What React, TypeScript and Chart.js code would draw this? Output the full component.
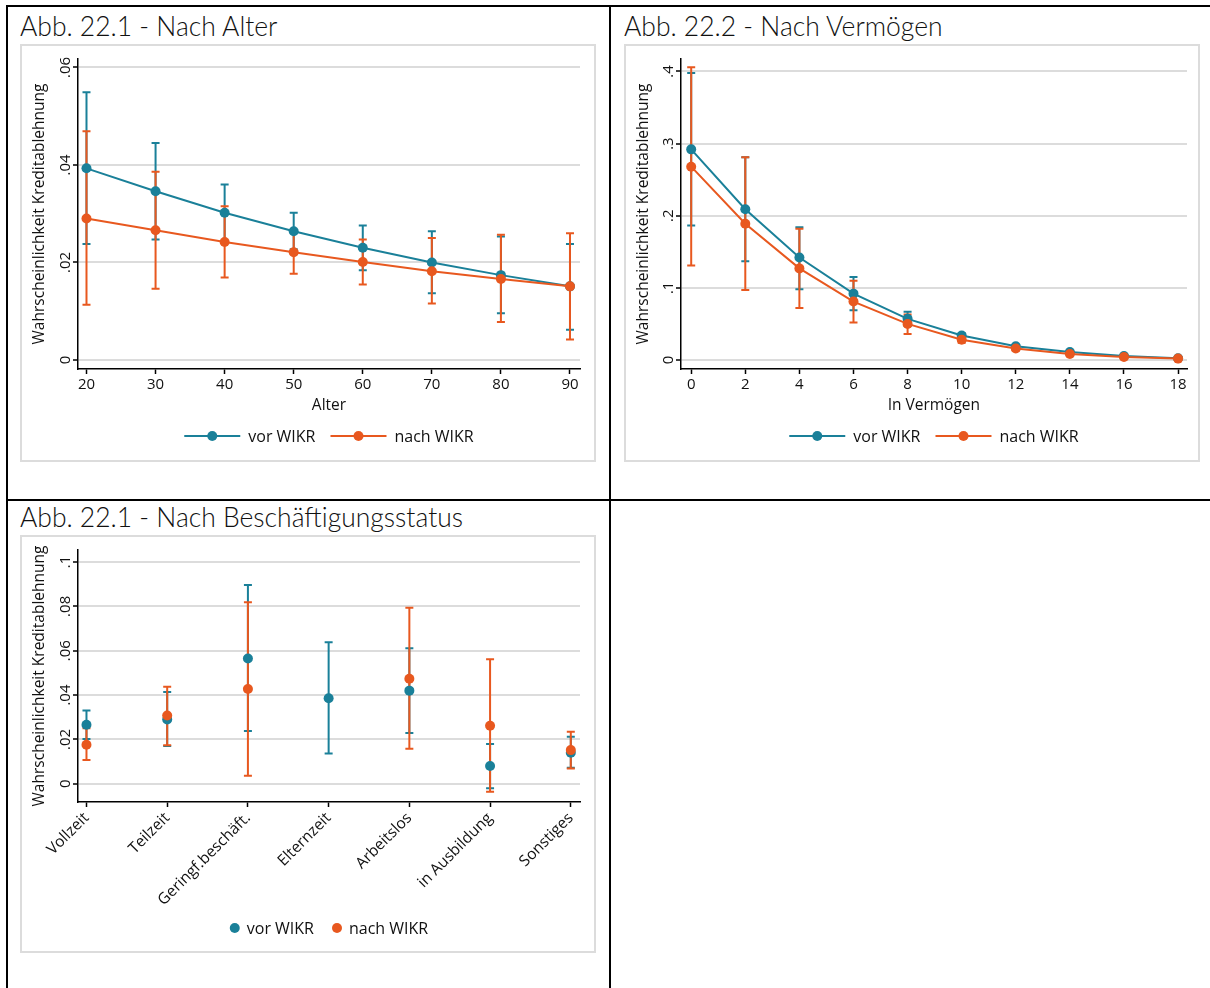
import React, { useEffect, useRef } from "react";
import { Chart, registerables } from "chart.js";

Chart.register(...registerables);

const FONT = "'Open Sans', 'DejaVu Sans', sans-serif";
const TITLE_FONT = "Lato, 'Open Sans', sans-serif";
const TEAL = "#1a8099";
const ORANGE = "#e8581f";
const GRID = "#dcdcdc";

const seriesNames = ["vor WIKR", "nach WIKR"];
const yAxisTitle = "Wahrscheinlichkeit Kreditablehnung";

// ---------- Panel 1: Nach Alter ----------
const ageX = [20, 30, 40, 50, 60, 70, 80, 90];
const ageVor = [0.0393, 0.0346, 0.0302, 0.0264, 0.023, 0.02, 0.0174, 0.0151];
const ageVorLo = [0.0238, 0.0247, 0.0244, 0.0227, 0.0184, 0.0137, 0.0096, 0.0062];
const ageVorHi = [0.0549, 0.0445, 0.036, 0.0302, 0.0276, 0.0264, 0.0253, 0.0238];
const ageNach = [0.029, 0.0266, 0.0242, 0.0221, 0.0201, 0.0182, 0.0166, 0.0151];
const ageNachLo = [0.0113, 0.0146, 0.0169, 0.0177, 0.0155, 0.0116, 0.0078, 0.0042];
const ageNachHi = [0.0469, 0.0386, 0.0315, 0.0265, 0.0247, 0.025, 0.0257, 0.026];
const ageYTicks = [0, 0.02, 0.04, 0.06];
const ageYTickLabels = ["0", ".02", ".04", ".06"];

// ---------- Panel 2: Nach Vermögen ----------
const wealthX = [0, 2, 4, 6, 8, 10, 12, 14, 16, 18];
const wealthVor = [0.292, 0.209, 0.142, 0.092, 0.057, 0.034, 0.019, 0.011, 0.0056, 0.0023];
const wealthVorLo = [0.1865, 0.137, 0.098, 0.069, 0.047, 0.03, 0.016, 0.009, 0.0045, 0.0015];
const wealthVorHi = [0.398, 0.281, 0.184, 0.115, 0.067, 0.037, 0.021, 0.012, 0.0066, 0.003];
const wealthNach = [0.268, 0.189, 0.127, 0.081, 0.05, 0.028, 0.016, 0.0084, 0.0042, 0.0019];
const wealthNachLo = [0.131, 0.097, 0.072, 0.052, 0.036, 0.024, 0.013, 0.007, 0.0033, 0.0013];
const wealthNachHi = [0.406, 0.281, 0.182, 0.11, 0.063, 0.033, 0.018, 0.0095, 0.005, 0.0025];
const wealthYTicks = [0, 0.1, 0.2, 0.3, 0.4];
const wealthYTickLabels = ["0", ".1", ".2", ".3", ".4"];

// ---------- Panel 3: Nach Beschäftigungsstatus ----------
const empCats = ["Vollzeit", "Teilzeit", "Geringf.beschäft.", "Elternzeit", "Arbeitslos", "in Ausbildung", "Sonstiges"];
const empVor = [0.0266, 0.029, 0.0565, 0.0386, 0.042, 0.008, 0.014];
const empVorLo = [0.0202, 0.0171, 0.0238, 0.0137, 0.0229, -0.002, 0.0072];
const empVorHi = [0.0331, 0.0414, 0.0896, 0.0638, 0.0611, 0.0179, 0.0212];
const empNach = [0.0176, 0.0308, 0.0427, null, 0.0474, 0.0262, 0.0152];
const empNachLo = [0.0107, 0.0174, 0.0036, null, 0.0158, -0.0036, 0.0069];
const empNachHi = [0.025, 0.0438, 0.0818, null, 0.0794, 0.0562, 0.0235];
const empYTicks = [0, 0.02, 0.04, 0.06, 0.08, 0.1];
const empYTickLabels = ["0", ".02", ".04", ".06", ".08", ".1"];

type Series = {
  label: string;
  color: string;
  xs: number[];
  ys: (number | null)[];
  lo: (number | null)[];
  hi: (number | null)[];
};

type PanelSpec = {
  series: Series[];
  showLine: boolean;
  xMin: number;
  xMax: number;
  yMin: number;
  yMax: number;
  xTicks: number[];
  xLabels?: string[];
  xRotation: number;
  xTitle?: string;
  xTitlePadBottom: number;
  xAxisHeight: number;
  yTicks: number[];
  yTickLabels: string[];
  yAxisWidth: number;
  yTitlePadTop: number;
  padding: { left: number; top: number; right: number; bottom: number };
  legendDy: number;
};

function makePlugins(spec: PanelSpec) {
  const errorBars = {
    id: "errorBars",
    beforeDatasetsDraw(chart: any) {
      const ctx = chart.ctx;
      const xs = chart.scales.x;
      const ys = chart.scales.y;
      spec.series.forEach((s) => {
        ctx.save();
        ctx.strokeStyle = s.color;
        ctx.lineWidth = 2;
        s.xs.forEach((xv, j) => {
          const lo = s.lo[j];
          const hi = s.hi[j];
          if (lo == null || hi == null) return;
          const px = xs.getPixelForValue(xv);
          const y1 = ys.getPixelForValue(lo);
          const y2 = ys.getPixelForValue(hi);
          ctx.beginPath();
          ctx.moveTo(px, y1);
          ctx.lineTo(px, y2);
          ctx.moveTo(px - 4, y1);
          ctx.lineTo(px + 4, y1);
          ctx.moveTo(px - 4, y2);
          ctx.lineTo(px + 4, y2);
          ctx.stroke();
        });
        ctx.restore();
      });
    },
  };

  const yLabels = {
    id: "yLabels",
    afterDraw(chart: any) {
      const ctx = chart.ctx;
      const ys = chart.scales.y;
      ctx.save();
      ctx.font = `15px ${FONT}`;
      ctx.fillStyle = "#111";
      ctx.textAlign = "center";
      ctx.textBaseline = "bottom";
      spec.yTicks.forEach((v, i) => {
        const y = ys.getPixelForValue(v);
        ctx.save();
        ctx.translate(chart.chartArea.left - 5, y);
        ctx.rotate(-Math.PI / 2);
        ctx.fillText(spec.yTickLabels[i], 0, 0);
        ctx.restore();
      });
      ctx.restore();
    },
  };

  const legend = {
    id: "stataLegend",
    afterDraw(chart: any) {
      const ctx = chart.ctx;
      ctx.save();
      ctx.font = `16px ${FONT}`;
      ctx.textBaseline = "middle";
      ctx.textAlign = "left";
      const symW = spec.showLine ? 56 : 10;
      const symGap = spec.showLine ? 8 : 7;
      const itemGap = spec.showLine ? 15 : 18;
      const items = spec.series.map((s) => ({ s, w: ctx.measureText(s.label).width }));
      const total = items.reduce((a, it) => a + symW + symGap + it.w, 0) + itemGap * (items.length - 1);
      let x = (chart.chartArea.left + chart.chartArea.right) / 2 - total / 2;
      const y = chart.scales.x.bottom + spec.legendDy;
      items.forEach((it) => {
        ctx.strokeStyle = it.s.color;
        ctx.fillStyle = it.s.color;
        ctx.lineWidth = 2;
        if (spec.showLine) {
          ctx.beginPath();
          ctx.moveTo(x, y);
          ctx.lineTo(x + symW, y);
          ctx.stroke();
        }
        ctx.beginPath();
        ctx.arc(x + symW / 2, y, 5, 0, Math.PI * 2);
        ctx.fill();
        x += symW + symGap;
        ctx.fillStyle = "#111";
        ctx.fillText(it.s.label, x, y + 1);
        x += it.w + itemGap;
      });
      ctx.restore();
    },
  };
  return [errorBars, yLabels, legend];
}

function buildConfig(spec: PanelSpec): any {
  const n = spec.series.length;
  return {
    type: "line",
    data: {
      datasets: spec.series.map((s, i) => ({
        label: s.label,
        data: s.xs.map((x, j) => ({ x, y: s.ys[j] })),
        borderColor: s.color,
        backgroundColor: s.color,
        pointBackgroundColor: s.color,
        pointBorderColor: s.color,
        pointRadius: 5,
        pointHoverRadius: 5,
        pointBorderWidth: 0,
        borderWidth: 2,
        showLine: spec.showLine,
        tension: 0,
        order: n - 1 - i,
      })),
    },
    options: {
      responsive: false,
      animation: false,
      devicePixelRatio: 1,
      events: [],
      layout: { padding: spec.padding },
      plugins: {
        legend: { display: false },
        tooltip: { enabled: false },
        title: { display: false },
      },
      scales: {
        x: {
          type: "linear",
          min: spec.xMin,
          max: spec.xMax,
          afterBuildTicks: (s: any) => {
            s.ticks = spec.xTicks.map((v) => ({ value: v }));
          },
          afterFit: (s: any) => {
            s.height = spec.xAxisHeight;
          },
          grid: {
            drawOnChartArea: false,
            drawTicks: true,
            tickLength: 5,
            tickColor: "#000",
            tickWidth: 1.5,
          },
          border: { display: true, color: "#000", width: 1.5 },
          ticks: {
            autoSkip: false,
            color: "#111",
            font: { family: FONT, size: spec.xRotation ? 15.5 : 15 },
            padding: 2,
            minRotation: spec.xRotation,
            maxRotation: spec.xRotation,
            callback: (v: any, i: number) =>
              spec.xLabels ? spec.xLabels[i] : String(spec.xTicks[i]),
          },
          title: {
            display: !!spec.xTitle,
            text: spec.xTitle || "",
            color: "#111",
            font: { family: FONT, size: 15.5 },
            padding: { top: 0, bottom: spec.xTitlePadBottom },
          },
        },
        y: {
          type: "linear",
          min: spec.yMin,
          max: spec.yMax,
          afterBuildTicks: (s: any) => {
            s.ticks = spec.yTicks.map((v) => ({ value: v }));
          },
          afterFit: (s: any) => {
            s.width = spec.yAxisWidth;
          },
          grid: {
            color: GRID,
            lineWidth: 2,
            drawTicks: true,
            tickLength: 5,
            tickColor: "#000",
            tickWidth: 1.5,
          },
          border: { display: true, color: "#000", width: 1.5 },
          ticks: { display: false },
          title: {
            display: true,
            text: yAxisTitle,
            color: "#111",
            font: { family: FONT, size: 15.5 },
            padding: { top: spec.yTitlePadTop, bottom: 0 },
          },
        },
      },
    },
    plugins: makePlugins(spec),
  };
}

const agePanel: PanelSpec = {
  series: [
    { label: seriesNames[0], color: TEAL, xs: ageX, ys: ageVor, lo: ageVorLo, hi: ageVorHi },
    { label: seriesNames[1], color: ORANGE, xs: ageX, ys: ageNach, lo: ageNachLo, hi: ageNachHi },
  ],
  showLine: true,
  xMin: 18.77,
  xMax: 91.45,
  yMin: -0.00185,
  yMax: 0.06172,
  xTicks: ageX,
  xRotation: 0,
  xTitle: "Alter",
  xTitlePadBottom: 4,
  xAxisHeight: 50,
  yTicks: ageYTicks,
  yTickLabels: ageYTickLabels,
  yAxisWidth: 56,
  yTitlePadTop: 8,
  padding: { left: 0, top: 13, right: 14, bottom: 41 },
  legendDy: 17,
};

const wealthPanel: PanelSpec = {
  series: [
    { label: seriesNames[0], color: TEAL, xs: wealthX, ys: wealthVor, lo: wealthVorLo, hi: wealthVorHi },
    { label: seriesNames[1], color: ORANGE, xs: wealthX, ys: wealthNach, lo: wealthNachLo, hi: wealthNachHi },
  ],
  showLine: true,
  xMin: -0.377,
  xMax: 18.33,
  yMin: -0.0125,
  yMax: 0.4173,
  xTicks: wealthX,
  xRotation: 0,
  xTitle: "ln Vermögen",
  xTitlePadBottom: 4,
  xAxisHeight: 50,
  yTicks: wealthYTicks,
  yTickLabels: wealthYTickLabels,
  yAxisWidth: 55,
  yTitlePadTop: 8,
  padding: { left: 0, top: 13, right: 11, bottom: 41 },
  legendDy: 17,
};

const empIdx = empCats.map((_, i) => i);
const empPanel: PanelSpec = {
  series: [
    { label: seriesNames[0], color: TEAL, xs: empIdx, ys: empVor, lo: empVorLo, hi: empVorHi },
    { label: seriesNames[1], color: ORANGE, xs: empIdx, ys: empNach, lo: empNachLo, hi: empNachHi },
  ],
  showLine: false,
  xMin: -0.105,
  xMax: 6.114,
  yMin: -0.0082,
  yMax: 0.1054,
  xTicks: empIdx,
  xLabels: empCats,
  xRotation: 45,
  xTitlePadBottom: 0,
  xAxisHeight: 112,
  yTicks: empYTicks,
  yTickLabels: empYTickLabels,
  yAxisWidth: 56,
  yTitlePadTop: 8,
  padding: { left: 0, top: 13, right: 14, bottom: 37 },
  legendDy: 14,
};

function StataChart({ spec, width, height }: { spec: PanelSpec; width: number; height: number }) {
  const ref = useRef<HTMLCanvasElement | null>(null);
  useEffect(() => {
    if (!ref.current) return;
    const chart = new Chart(ref.current, buildConfig(spec));
    return () => chart.destroy();
  }, [spec]);
  return <canvas ref={ref} width={width} height={height} style={{ display: "block", width, height }} />;
}

function Panel({ spec, left, top, title }: { spec: PanelSpec; left: number; top: number; title: string }) {
  return (
    <>
      <div
        style={{
          position: "absolute",
          left,
          top: top - 34,
          fontFamily: TITLE_FONT,
          fontWeight: 300,
          fontSize: 26.5,
          lineHeight: "32px",
          color: "#111",
          whiteSpace: "nowrap",
        }}
      >
        {title}
      </div>
      <div
        style={{
          position: "absolute",
          left,
          top,
          width: 576,
          height: 418,
          boxSizing: "border-box",
          border: `2px solid ${GRID}`,
          background: "#fff",
        }}
      >
        <StataChart spec={spec} width={572} height={414} />
      </div>
    </>
  );
}

export default function App() {
  const line = "#000";
  return (
    <div
      style={{
        position: "absolute",
        left: 0,
        top: 0,
        width: 1210,
        height: 988,
        overflow: "hidden",
        background: "#fff",
      }}
    >
      <div style={{ position: "absolute", left: 6, top: 5, width: 1210, height: 2, background: line }} />
      <div style={{ position: "absolute", left: 6, top: 5, width: 2, height: 1000, background: line }} />
      <div style={{ position: "absolute", left: 609, top: 5, width: 2, height: 1000, background: line }} />
      <div style={{ position: "absolute", left: 6, top: 499, width: 1210, height: 2, background: line }} />
      <Panel spec={agePanel} left={20} top={44} title="Abb. 22.1 - Nach Alter" />
      <Panel spec={wealthPanel} left={624} top={44} title="Abb. 22.2 - Nach Vermögen" />
      <Panel spec={empPanel} left={20} top={535} title="Abb. 22.1 - Nach Beschäftigungsstatus" />
    </div>
  );
}
